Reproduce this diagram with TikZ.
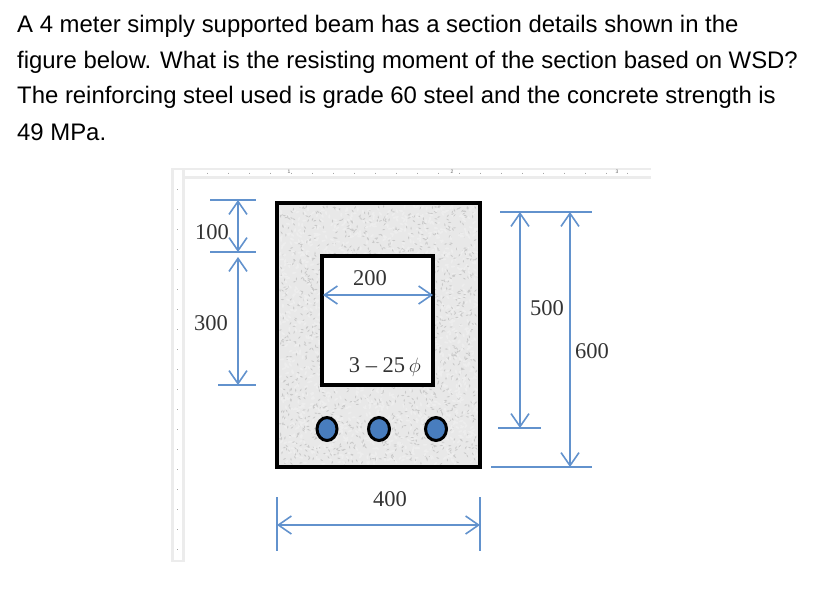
\documentclass[tikz,border=0pt]{standalone}
\usepackage{fontspec}
\setmainfont{Liberation Sans}
\newfontfamily\dimfont{Liberation Serif}
\usetikzlibrary{arrows.meta,positioning,shapes.geometric}
\definecolor{dimblue}{RGB}{98,146,205}
\definecolor{barblue}{RGB}{72,125,190}
\definecolor{rulergray}{RGB}{236,236,236}
\tikzset{
  prompt/.style={anchor=base west,inner sep=0pt,font=\fontsize{23.9}{28}\selectfont,text=black},
  dimlabel/.style={inner sep=0pt,font=\dimfont\fontsize{22.5}{26}\selectfont,text=black!80},
  dimline/.style={draw=dimblue,line width=1.6pt,{Straight Barb[length=13pt,width=18pt,line width=1.6pt]}-{Straight Barb[length=13pt,width=18pt,line width=1.6pt]}},
  extline/.style={draw=dimblue,line width=2pt},
  section/.style={draw=black,line width=3.4pt,inner sep=0pt},
  rebar/.style={ellipse,draw=black,fill=barblue,line width=3pt,minimum height=23pt,inner sep=0pt},
  rulertick/.style={draw=black!35,line width=0.8pt},
  rulerlabel/.style={inner sep=0pt,font=\fontsize{5}{6}\selectfont,text=black!60}
}
\begin{document}
\begin{tikzpicture}[x=1pt,y=-1pt]
  \useasboundingbox (0,0) rectangle (814,600);
  % question text
  \node[prompt] (line1) at (17,32) {A 4 meter simply supported beam has a section details shown in the};
  \node[prompt] (line2) at (17,68) {figure below. What is the resisting moment of the section based on WSD?};
  \node[prompt] (line3) at (17,103) {The reinforcing steel used is grade 60 steel and the concrete strength is};
  \node[prompt] (line4) at (17,140) {49 MPa.};
  % ruler
  \fill[rulergray] (171,168) rectangle (651,179);
  \fill[rulergray] (171,168) rectangle (185,562);
  \fill[white] (174,170) rectangle (182,560);
  \fill[white] (185,170) rectangle (651,176);
  \foreach \x in {207,228,...,640} \draw[rulertick] (\x,172.5) -- (\x,173.5);
  \foreach \y in {189,209,...,550} \draw[rulertick] (177,\y) -- (178,\y);
  \node[rulerlabel] (r1) at (289,172) {1};
  \node[rulerlabel] (r2) at (452,172) {2};
  \node[rulerlabel] (r3) at (617,172) {3};
  % section
  \node[section,fill=black!9,draw=none,minimum width=203pt,minimum height=264pt] (outer) at (378.5,335) {};
  \pgfmathsetseed{4217}
  \foreach \i in {1,...,1600} {
    \pgfmathsetmacro{\px}{280+rnd*197}
    \pgfmathsetmacro{\py}{206+rnd*258}
    \pgfmathsetmacro{\ang}{rnd*180}
    \fill[black!21,rotate around={\ang:(\px,\py)}] (\px,\py) ellipse (1.7pt and 0.6pt);
    \pgfmathsetmacro{\qx}{280+rnd*197}
    \pgfmathsetmacro{\qy}{206+rnd*258}
    \fill[white!93!black,rotate around={\ang:(\qx,\qy)}] (\qx,\qy) ellipse (2.2pt and 1pt);
  }
  \node[section,minimum width=203pt,minimum height=264pt] (outerline) at (378.5,335) {};
  \node[section,fill=white,minimum width=111pt,minimum height=129pt] (inner) at (377.5,320.5) {};
  \node[rebar,minimum width=20pt] (bar1) at (327,429) {};
  \node[rebar,minimum width=21pt] (bar2) at (379,429) {};
  \node[rebar,minimum width=21pt] (bar3) at (436,429) {};
  % dimensions
  \coordinate (a1) at (210,200);
  \coordinate (a2) at (256,200);
  \coordinate (b1) at (210,252);
  \coordinate (b2) at (256,252);
  \coordinate (c1) at (218,385);
  \coordinate (c2) at (256,385);
  \coordinate (d1) at (500,212);
  \coordinate (d2) at (592,212);
  \coordinate (e1) at (498,428);
  \coordinate (e2) at (541,428);
  \coordinate (f1) at (491,467);
  \coordinate (f2) at (592,467);
  \coordinate (g1) at (277,497);
  \coordinate (g2) at (277,551);
  \coordinate (h1) at (480,497);
  \coordinate (h2) at (480,551);
  \draw[extline] (a1) -- (a2);
  \draw[extline] (b1) -- (b2);
  \draw[extline] (c1) -- (c2);
  \draw[extline] (d1) -- (d2);
  \draw[extline] (e1) -- (e2);
  \draw[extline] (f1) -- (f2);
  \draw[extline] (g1) -- (g2);
  \draw[extline] (h1) -- (h2);
  \coordinate (h100a) at (238,200);
  \coordinate (h100b) at (238,252);
  \coordinate (h300a) at (238,257);
  \coordinate (h300b) at (238,385);
  \coordinate (h500a) at (520,212);
  \coordinate (h500b) at (520,428);
  \coordinate (h600a) at (570,212);
  \coordinate (h600b) at (570,467);
  \coordinate (w400a) at (277,525);
  \coordinate (w400b) at (480,525);
  \coordinate (w200a) at (323,295);
  \coordinate (w200b) at (433,295);
  \draw[dimline] (h100a) -- (h100b);
  \draw[dimline] (h300a) -- (h300b);
  \draw[dimline] (h500a) -- (h500b);
  \draw[dimline] (h600a) -- (h600b);
  \draw[dimline] (w400a) -- (w400b);
  \draw[dimline] (w200a) -- (w200b);
  % labels
  \node[dimlabel] (l100) at (212,232) {100};
  \node[dimlabel] (l300) at (211,323) {300};
  \node[dimlabel] (l200) at (370,278) {200};
  \node[dimlabel] (l325) at (385,367) {3 – 25\,$\phi$};
  \node[dimlabel] (l500) at (547,308) {500};
  \node[dimlabel] (l600) at (592,351) {600};
  \node[dimlabel] (l400) at (390,499) {400};
\end{tikzpicture}
\end{document}
